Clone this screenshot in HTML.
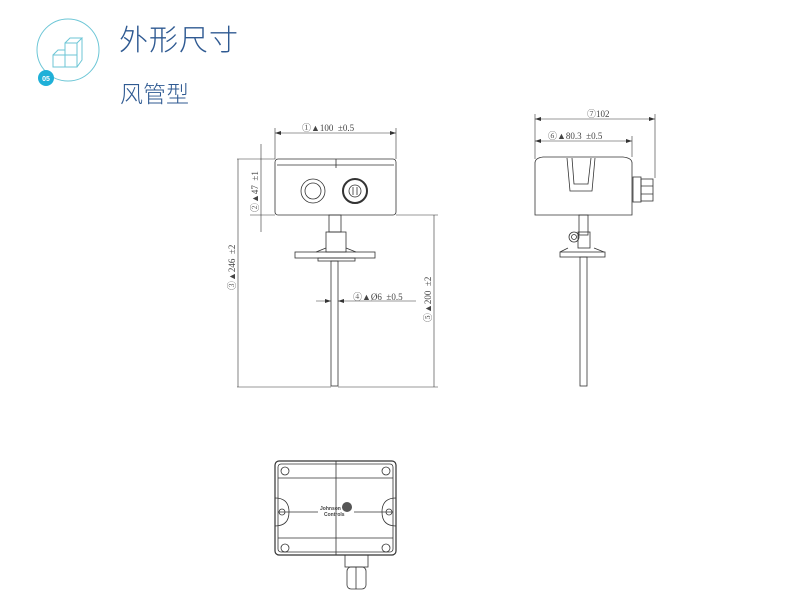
<!DOCTYPE html>
<html><head><meta charset="utf-8"><style>
body{margin:0;background:#fff;width:810px;height:597px;overflow:hidden;position:relative;font-family:"Liberation Sans","Noto Sans CJK SC",sans-serif}
.t1{position:absolute;left:119px;top:17px;font-size:29px;color:#2f5a92;letter-spacing:1px;font-weight:300}
.t2{position:absolute;left:120px;top:75px;font-size:23px;color:#2f5a92;font-weight:300}
svg{position:absolute;left:0;top:0}
text{font-family:"Liberation Serif","Noto Serif CJK SC",serif;font-size:9px;fill:#444}
</style></head><body>
<div class="t1">外形尺寸</div>
<div class="t2">风管型</div>
<svg width="810" height="597" viewBox="0 0 810 597">
<g fill="none" stroke="#6cc6d6" stroke-width="1">
<circle cx="68" cy="50" r="31"/>
<path d="M53 55h12v12h-12z M65 55h12v12h-12z M65 43h12v12h-12z M53 55l5-5h7 M65 43l5-5h12l-5 5 M82 38v22l-5 7"/>
</g>
<circle cx="46" cy="78" r="8" fill="#1fb0d8"/>
<text x="46" y="81" text-anchor="middle" style="font-family:'Liberation Sans';font-size:7px;font-weight:bold;fill:#fff">05</text>
<g stroke="#333" fill="none" stroke-width="0.8">
<rect x="275" y="159" width="121" height="56" rx="3"/>
<path d="M277 165h117 M336 159v9"/>
<circle cx="313" cy="191" r="12"/><circle cx="313" cy="191" r="8"/>
<circle cx="355" cy="191" r="12" stroke-width="2"/><circle cx="355" cy="191" r="6"/><path d="M353 187v8M357 187v8"/>
<rect x="329" y="215" width="12" height="17"/>
<rect x="326" y="232" width="20" height="20"/>
<path d="M326 248l-10 4M346 248l10 4"/>
<rect x="295" y="252" width="80" height="6"/>
<rect x="318" y="258" width="37" height="3"/>
<rect x="331" y="261" width="7" height="125"/>
<path d="M275 128v31M396 128v31M275 133h121" stroke-width="0.6"/>
<path d="M261 144v88M237 159h38M250 215h25M238 159v228M237 387h94M434 215v172M396 215h42M338 387h100" stroke-width="0.6"/>
<path d="M316 301h15M338 301h78" stroke-width="0.6"/>
<path d="M535 215v-52q0-5 8-6h80q9 1 9 6v52z"/>
<path d="M567 158l3 33h22l3-33M572 158l2 26h14l3-26"/>
<rect x="633" y="177" width="8" height="25"/><rect x="641" y="179" width="12" height="22"/>
<path d="M641 186h12M641 194h12"/>
<rect x="579" y="215" width="9" height="20"/>
<circle cx="574" cy="237" r="5"/><circle cx="574" cy="237" r="2.5"/>
<rect x="578" y="232" width="12" height="16"/>
<path d="M568 248l-8 4M594 248l10 4"/>
<rect x="560" y="252" width="45" height="5"/>
<rect x="580" y="257" width="7" height="129"/>
<path d="M535 114v45M655 114v64M535 119h120M632 136v21M535 141h97" stroke-width="0.6"/>
<rect x="275" y="461" width="121" height="94" rx="4" stroke-width="1.2"/>
<rect x="278" y="464" width="115" height="88" rx="3"/>
<path d="M336 461v94M278 478h115M278 538h115M278 512h40M354 512h39"/>
<circle cx="285" cy="471" r="4"/><circle cx="386" cy="471" r="4"/><circle cx="285" cy="548" r="4"/><circle cx="386" cy="548" r="4"/>
<path d="M275 498q14 0 14 14t-14 14M396 498q-14 0-14 14t14 14"/>
<circle cx="282" cy="512" r="3"/><circle cx="389" cy="512" r="3"/>
<rect x="345" y="555" width="23" height="12"/><rect x="347" y="567" width="19" height="22" rx="4"/>
<path d="M356 567v22"/>
</g>
<circle cx="347" cy="507" r="5" fill="#555"/>
<text x="320" y="510" style="font-size:5px;font-family:'Liberation Sans';font-weight:bold">Johnson</text>
<text x="324" y="516" style="font-size:5px;font-family:'Liberation Sans';font-weight:bold">Controls</text>
<g fill="#333">
<path d="M275 133l6-2v4zM396 133l-6-2v4zM535 119l6-2v4zM655 119l-6-2v4zM535 141l6-2v4zM632 141l-6-2v4z"/>
<path d="M331 301l-6-2v4zM338 301l6-2v4z"/>
</g>
<text x="302" y="131" xml:space="preserve">①▲100  ±0.5</text>
<text x="587" y="117">⑦102</text>
<text x="548" y="139" xml:space="preserve">⑥▲80.3  ±0.5</text>
<text x="353" y="300" xml:space="preserve">④▲Ø6  ±0.5</text>
<text transform="translate(258 212) rotate(-90)" xml:space="preserve">②▲47  ±1</text>
<text transform="translate(235 290) rotate(-90)" xml:space="preserve">③▲246  ±2</text>
<text transform="translate(431 322) rotate(-90)" xml:space="preserve">⑤▲200  ±2</text>
</svg>
</body></html>
